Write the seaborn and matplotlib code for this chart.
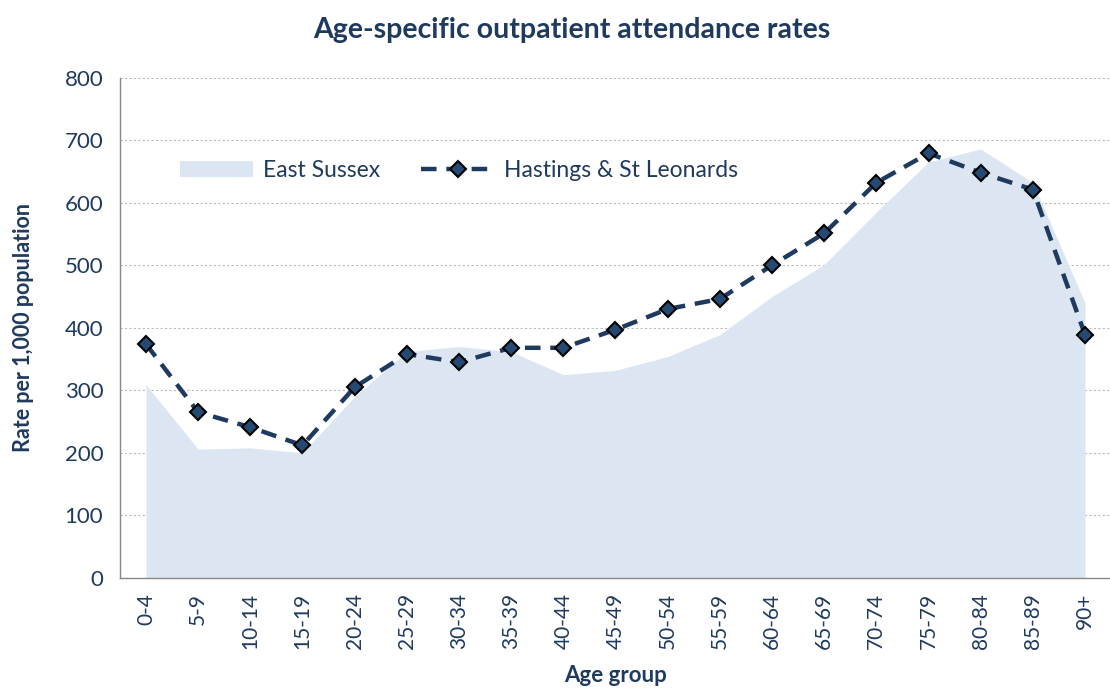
import pandas as pd
import seaborn as sns
import matplotlib.pyplot as plt
from matplotlib.patches import Patch
from matplotlib.lines import Line2D

# Dados
age_groups = ['0-4', '5-9', '10-14', '15-19', '20-24', '25-29', '30-34', '35-39', '40-44',
              '45-49', '50-54', '55-59', '60-64', '65-69', '70-74', '75-79', '80-84', '85-89', '90+']
east_sussex = [309, 206, 208, 200, 290, 362, 370, 362, 325, 332, 354, 389, 450, 501, 585, 665, 686, 632, 440]
hastings = [374, 265, 241, 212, 305, 358, 345, 368, 368, 397, 430, 446, 500, 551, 632, 679, 648, 621, 389]

df = pd.DataFrame({'age': age_groups, 'east_sussex': east_sussex, 'hastings': hastings})
df['pos'] = range(len(df))

navy = '#1F3A5F'
fill_color = '#DCE6F2'

sns.set_style('white')
plt.rcParams['font.family'] = ['Lato', 'DejaVu Sans']

fig = plt.figure(figsize=(11.1, 6.93), dpi=100)
ax = fig.add_axes([0.108, 0.166, 0.893, 0.722])

# Area East Sussex
ax.fill_between(df['pos'], df['east_sussex'], 0, color=fill_color, linewidth=0, zorder=1)

# Linha Hastings
sns.lineplot(data=df, x='pos', y='hastings', ax=ax, color=navy, linewidth=3.2,
             marker='D', markersize=8, markerfacecolor='#254A72', markeredgecolor='black',
             markeredgewidth=1.5, zorder=3)
ax.lines[-1].set_dashes([3.5, 2.2])

ax.set_xlim(-0.5, len(age_groups) - 0.5)
ax.set_ylim(0, 800)
ax.set_yticks(range(0, 801, 100))
ax.set_xticks(df['pos'])
ax.set_xticklabels(age_groups, rotation=90)
ax.set_xticks([p - 0.5 for p in range(len(age_groups) + 1)], minor=True)
ax.tick_params(axis='x', which='major', length=0, pad=11, labelsize=15, labelcolor=navy)
ax.tick_params(axis='x', which='minor', length=6, width=1, color='#888888', direction='out')
ax.tick_params(axis='y', length=6, width=1, color='#888888', direction='out', labelsize=16,
               labelcolor=navy, pad=6)
ax.yaxis.grid(True, linestyle=(0, (2, 2)), color='#BBBBBB', linewidth=0.8)
ax.set_axisbelow(True)

for s in ['top', 'right']:
    ax.spines[s].set_visible(False)
for s in ['left', 'bottom']:
    ax.spines[s].set_color('#888888')
    ax.spines[s].set_linewidth(1)

ax.set_xlabel('Age group', fontsize=16, fontweight='bold', color=navy, labelpad=11)
ax.set_ylabel('Rate per 1,000 population', fontsize=15.5, fontweight='bold', color=navy, labelpad=22)
fig.suptitle('Age-specific outpatient attendance rates', fontsize=20.5, fontweight='bold', color=navy,
             x=0.515, y=0.975)

handles = [Patch(facecolor=fill_color, edgecolor='none'),
           Line2D([0], [0], color=navy, linewidth=3.2, dashes=[3.5, 2.2], marker='D', markersize=8,
                  markerfacecolor='#254A72', markeredgecolor='black', markeredgewidth=1.5)]
leg = ax.legend(handles, ['East Sussex', 'Hastings & St Leonards'], ncol=2, frameon=False,
                loc='center left', bbox_to_anchor=(0.04, 0.814), fontsize=16.5, handlelength=3.2,
                columnspacing=1.8, handletextpad=0.4)
for t in leg.get_texts():
    t.set_color(navy)

plt.savefig('out.png', dpi=100)
